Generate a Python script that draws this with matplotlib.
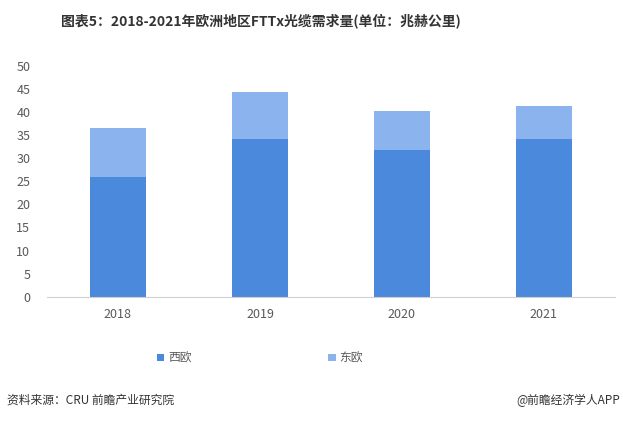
import matplotlib.pyplot as plt

plt.rcParams['font.family'] = ['Noto Sans CJK SC', 'DejaVu Sans']

years = ['2018', '2019', '2020', '2021']
# 兆赫公里
west = [25.9, 34.1, 31.8, 34.1]
east = [10.6, 10.2, 8.4, 7.2]

c_west = '#4a89dc'
c_east = '#8bb4ee'

fig = plt.figure(figsize=(6.23, 4.21), dpi=100)
ax = fig.add_axes([0.0754, 0.2952, 0.9116, 0.5488])

x = range(len(years))
ax.bar(x, west, width=0.4, color=c_west, label='西欧')
ax.bar(x, east, width=0.4, bottom=west, color=c_east, label='东欧')

ax.set_xlim(-0.5, 3.5)
ax.set_ylim(0, 50)
ax.set_yticks(range(0, 51, 5))
ax.set_xticks(list(x))
ax.set_xticklabels(years)
for s in ['top', 'right', 'left']:
    ax.spines[s].set_visible(False)
ax.spines['bottom'].set_color('#d0d0d0')
ax.tick_params(length=0, labelsize=9, colors='#595959')
ax.tick_params(axis='y', pad=12)
ax.tick_params(axis='x', pad=8)

ax.legend(loc='center', bbox_to_anchor=(0.375, -0.265), ncol=2, frameon=False,
          fontsize=8.5, handlelength=0.6, handleheight=0.6, handletextpad=0.3,
          columnspacing=11.6, labelcolor='#595959')

fig.text(0.419, 0.952, '图表5：2018-2021年欧洲地区FTTx光缆需求量(单位：兆赫公里)',
         ha='center', va='center', fontsize=10, fontweight='bold', color='#333333')
fig.text(0.011, 0.05, '资料来源：CRU 前瞻产业研究院', ha='left', va='center',
         fontsize=8.5, color='#333333')
fig.text(0.995, 0.05, '@前瞻经济学人APP', ha='right', va='center',
         fontsize=8.5, color='#333333')

plt.savefig('out.png', dpi=100)
